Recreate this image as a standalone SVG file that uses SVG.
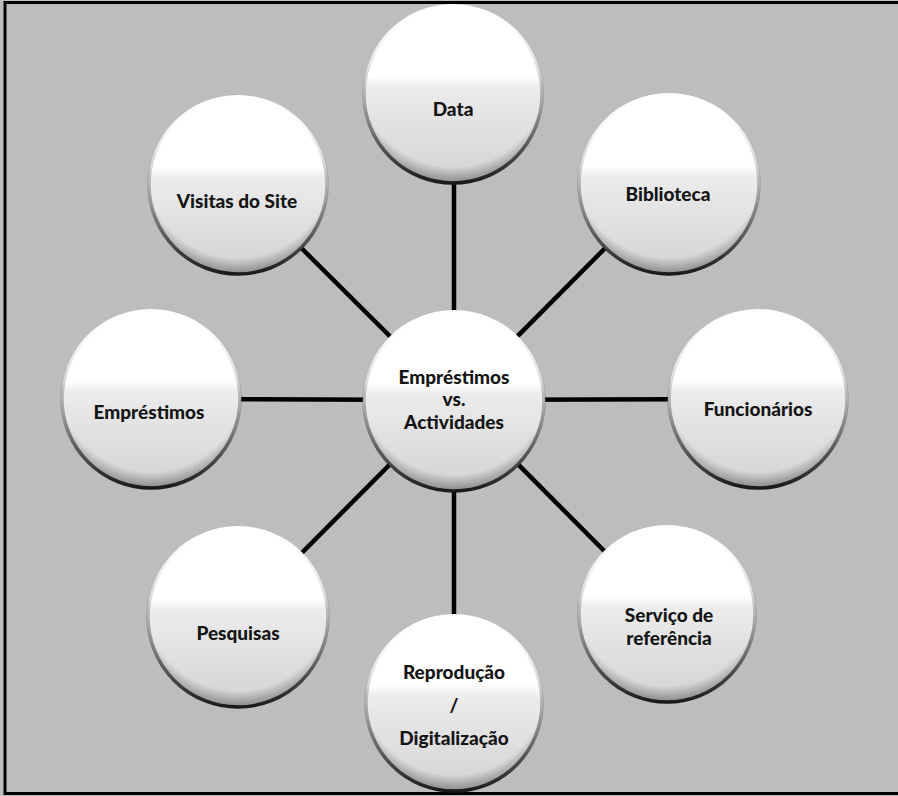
<svg xmlns="http://www.w3.org/2000/svg" width="898" height="796" viewBox="0 0 898 796">
  <style>
    .ball { fill: url(#ballFill); }
    .shade { fill: url(#edgeShade); }
    .rim { fill: none; stroke: url(#rimStroke); stroke-width: 3.5; }
    .link { stroke: #000; stroke-width: 4.5; stroke-linecap: butt; }
    .label { font-family: "Lato", "Liberation Sans", sans-serif; font-weight: 900; font-size: 19px; fill: #151515; text-anchor: middle; }
  </style>
  <defs>
    <linearGradient id="ballFill" x1="0" y1="0" x2="0" y2="1">
      <stop offset="0" stop-color="#ffffff"/>
      <stop offset="0.4" stop-color="#ffffff"/>
      <stop offset="0.46" stop-color="#ececec"/>
      <stop offset="1" stop-color="#d2d2d2"/>
    </linearGradient>
    <radialGradient id="edgeShade" cx="0.5" cy="0.38" r="0.64">
      <stop offset="0.82" stop-color="#000" stop-opacity="0"/>
      <stop offset="1" stop-color="#000" stop-opacity="0.45"/>
    </radialGradient>
    <linearGradient id="rimStroke" x1="0" y1="0" x2="0" y2="1">
      <stop offset="0" stop-color="#ffffff" stop-opacity="0"/>
      <stop offset="0.45" stop-color="#777" stop-opacity="0.4"/>
      <stop offset="1" stop-color="#1a1a1a"/>
    </linearGradient>
  </defs>

  <!-- backdrop and frame -->
  <rect x="0" y="0" width="898" height="796" fill="#bdbdbd"/>
  <rect x="5" y="2.5" width="900" height="791" fill="none" stroke="#000" stroke-width="3"/>

  <!-- spokes from the hub to each outer ball -->
  <g id="connectors">
    <line class="link" x1="454" y1="400" x2="454" y2="95"/>
    <line class="link" x1="454" y1="400" x2="669" y2="184"/>
    <line class="link" x1="454" y1="400" x2="758" y2="399"/>
    <line class="link" x1="454" y1="400" x2="667" y2="614"/>
    <line class="link" x1="454" y1="400" x2="454" y2="704"/>
    <line class="link" x1="454" y1="400" x2="238" y2="617"/>
    <line class="link" x1="454" y1="400" x2="151" y2="399"/>
    <line class="link" x1="454" y1="400" x2="238" y2="185"/>
  </g>

  <g id="hub">
    <circle class="ball" cx="454" cy="401" r="91"/>
    <circle class="shade" cx="454" cy="401" r="91"/>
    <circle class="rim" cx="454" cy="401" r="90"/>
    <text class="label" x="454" y="384">Empréstimos</text>
    <text class="label" x="454" y="406">vs.</text>
    <text class="label" x="454" y="429">Actividades</text>
  </g>

  <g id="data">
    <circle class="ball" cx="453" cy="94" r="90"/>
    <circle class="shade" cx="453" cy="94" r="90"/>
    <circle class="rim" cx="453" cy="94" r="89"/>
    <text class="label" x="453" y="116">Data</text>
  </g>

  <g id="biblioteca">
    <circle class="ball" cx="669" cy="184" r="91"/>
    <circle class="shade" cx="669" cy="184" r="91"/>
    <circle class="rim" cx="669" cy="184" r="90"/>
    <text class="label" x="668" y="201">Biblioteca</text>
  </g>

  <g id="funcionarios">
    <circle class="ball" cx="758" cy="399" r="90"/>
    <circle class="shade" cx="758" cy="399" r="90"/>
    <circle class="rim" cx="758" cy="399" r="89"/>
    <text class="label" x="758" y="416">Funcionários</text>
  </g>

  <g id="servico">
    <circle class="ball" cx="667" cy="614" r="89"/>
    <circle class="shade" cx="667" cy="614" r="89"/>
    <circle class="rim" cx="667" cy="614" r="88"/>
    <text class="label" x="669" y="622">Serviço de</text>
    <text class="label" x="669" y="645">referência</text>
  </g>

  <g id="reproducao">
    <circle class="ball" cx="454" cy="703" r="89"/>
    <circle class="shade" cx="454" cy="703" r="89"/>
    <circle class="rim" cx="454" cy="703" r="88"/>
    <text class="label" x="454" y="679">Reprodução</text>
    <text class="label" x="454" y="712">/</text>
    <text class="label" x="454" y="745">Digitalização</text>
  </g>

  <g id="pesquisas">
    <circle class="ball" cx="238" cy="617" r="91"/>
    <circle class="shade" cx="238" cy="617" r="91"/>
    <circle class="rim" cx="238" cy="617" r="90"/>
    <text class="label" x="238" y="640">Pesquisas</text>
  </g>

  <g id="emprestimos">
    <circle class="ball" cx="151" cy="399" r="90"/>
    <circle class="shade" cx="151" cy="399" r="90"/>
    <circle class="rim" cx="151" cy="399" r="89"/>
    <text class="label" x="149" y="419">Empréstimos</text>
  </g>

  <g id="visitas">
    <circle class="ball" cx="238" cy="185" r="90"/>
    <circle class="shade" cx="238" cy="185" r="90"/>
    <circle class="rim" cx="238" cy="185" r="89"/>
    <text class="label" x="237" y="208">Visitas do Site</text>
  </g>
</svg>
